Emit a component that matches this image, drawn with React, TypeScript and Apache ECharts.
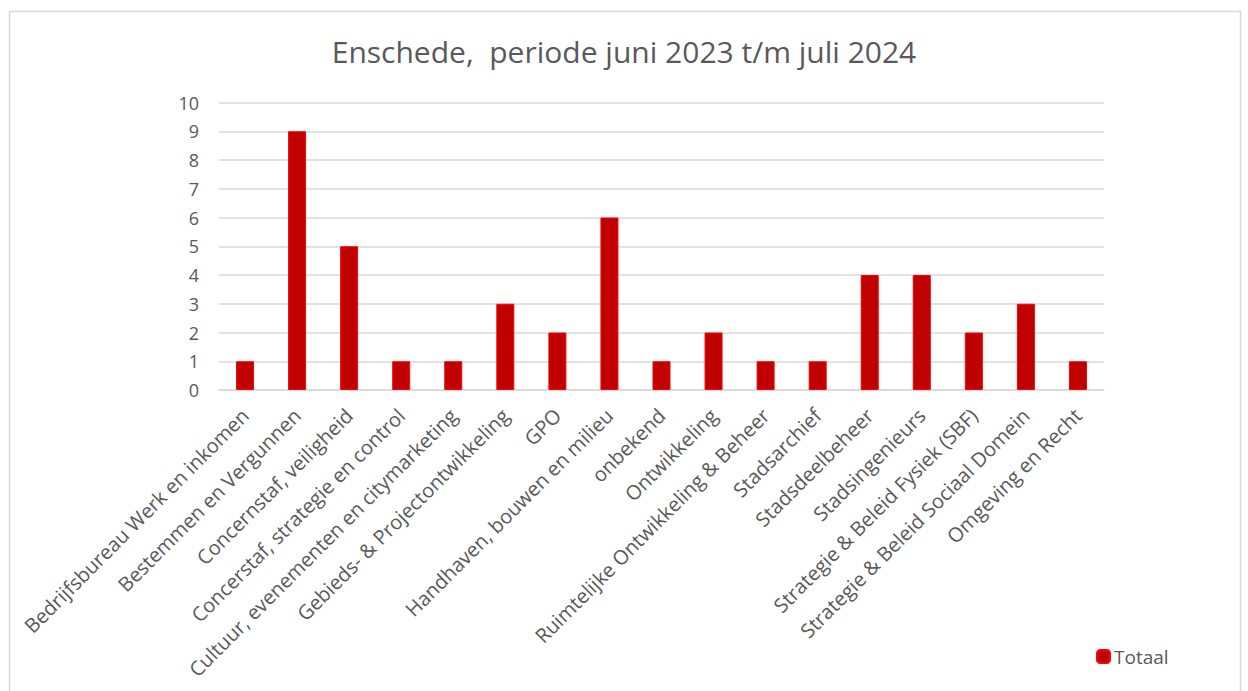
import React, { useEffect, useRef } from "react";
import * as echarts from "echarts";

const categories = [
  "Bedrijfsbureau Werk en inkomen",
  "Bestemmen en Vergunnen",
  "Concernstaf, veiligheid",
  "Concerstaf, strategie en control",
  "Cultuur, evenementen en citymarketing",
  "Gebieds- & Projectontwikkeling",
  "GPO",
  "Handhaven, bouwen en milieu",
  "onbekend",
  "Ontwikkeling",
  "Ruimtelijke Ontwikkeling & Beheer",
  "Stadsarchief",
  "Stadsdeelbeheer",
  "Stadsingenieurs",
  "Strategie & Beleid Fysiek (SBF)",
  "Strategie & Beleid Sociaal Domein",
  "Omgeving en Recht",
];
const totaal = [1, 9, 5, 1, 1, 3, 2, 6, 1, 2, 1, 1, 4, 4, 2, 3, 1];
const seriesName = "Totaal";
const titleText = "Enschede,  periode juni 2023 t/m juli 2024";

const FONT = "'Open Sans', 'Noto Sans', sans-serif";
const TXT = "#595959";

export default function App() {
  const ref = useRef<HTMLDivElement>(null);
  useEffect(() => {
    document.body.style.margin = "0";
    const chart = echarts.init(ref.current!, null, { renderer: "svg" });
    chart.setOption({
      animation: false,
      backgroundColor: "#ffffff",
      textStyle: { fontFamily: FONT },
      title: {
        text: titleText,
        left: "center",
        top: 31,
        textStyle: { fontFamily: FONT, fontSize: 30, fontWeight: "normal", color: TXT },
      },
      graphic: [
        {
          type: "rect",
          shape: { x: 9.5, y: 11.5, width: 1231, height: 700 },
          style: { fill: "none", stroke: "#d9d9d9", lineWidth: 1.5 },
          silent: true,
        },
      ],
      legend: {
        data: [seriesName],
        left: 1091,
        top: 642,
        itemWidth: 13,
        itemHeight: 13,
        itemGap: 4,
        textStyle: { fontFamily: FONT, fontSize: 19, color: TXT, padding: [0, 0, 0, -1] },
      },
      grid: { left: 219, right: 144, top: 102.5, bottom: 301, containLabel: false },
      xAxis: {
        type: "category",
        data: categories,
        axisLine: { lineStyle: { color: "#d9d9d9", width: 1.5 } },
        axisTick: { show: false },
        axisLabel: {
          rotate: 45,
          interval: 0,
          margin: 22,
          fontFamily: FONT,
          fontSize: 20,
          color: TXT,
        },
      },
      yAxis: {
        type: "value",
        min: 0,
        max: 10,
        interval: 1,
        axisLine: { show: false },
        axisTick: { show: false },
        splitLine: { lineStyle: { color: "#d9d9d9", width: 1.5 } },
        axisLabel: { fontFamily: FONT, fontSize: 18, color: TXT, margin: 20 },
      },
      series: [
        {
          name: seriesName,
          type: "bar",
          data: totaal,
          barWidth: 18,
          itemStyle: { color: "#C00000", borderColor: "#FF0000", borderWidth: 1 },
        },
      ],
    });
    return () => chart.dispose();
  }, []);
  return <div ref={ref} style={{ width: 1248, height: 691 }} />;
}
